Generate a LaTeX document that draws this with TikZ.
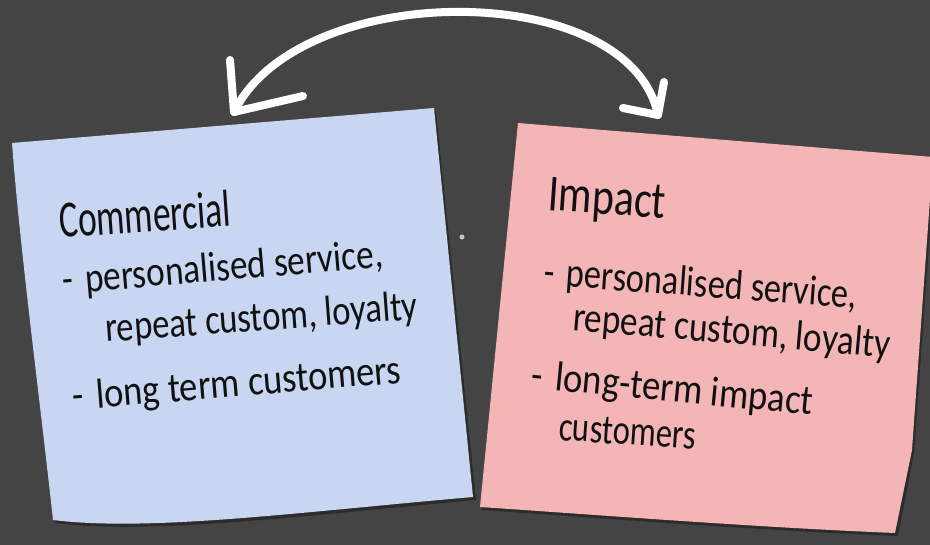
\documentclass[tikz,border=0pt]{standalone}
\usepackage{fontspec}
\setmainfont{Carlito}
\usepackage{graphicx}
\definecolor{board}{HTML}{444444}
\definecolor{bluenote}{HTML}{C8D6F1}
\definecolor{pinknote}{HTML}{F3B5B6}
\definecolor{ink}{HTML}{111111}
\tikzset{
  hand/.style={anchor=base west, inner sep=0pt, text=ink, font=\fontsize{42}{48}\selectfont},
  titletext/.style={hand, font=\fontsize{52}{60}\selectfont},
  chalk/.style={draw=white, line width=8pt, line cap=round, line join=round},
  noteshadow/.style={fill=black, opacity=.35},
}
\newcommand{\fitw}[2]{\resizebox{#1pt}{\height}{#2}}
\begin{document}
\begin{tikzpicture}[x=1pt,y=-1pt]
\fill[board] (0,0) rectangle (930,545);
\useasboundingbox (0,0) rectangle (930,545);
% blue note
\fill[noteshadow] (14,146) -- (436,111) -- (476,500) .. controls (300,516) and (150,535) .. (55,523) .. controls (42,400) and (22,250) .. cycle;
\fill[bluenote] (12,143) -- (434,108) -- (473,497) .. controls (300,512) and (150,532) .. (53,520) .. controls (40,400) and (20,250) .. cycle;
% pink note
\fill[noteshadow] (520,126) -- (935,160) -- (914,453) -- (898,536) .. controls (750,530) and (600,518) .. (482,510) -- cycle;
\fill[pinknote] (518,123) -- (933,157) -- (912,450) -- (895,533) .. controls (750,527) and (600,515) .. (480,507) -- cycle;
% chalk speck
\fill[white, opacity=.7] (462,237) circle (2.5);
% blue text
\node[titletext, rotate=4] (c1) at (60,238) {\fitw{172}{Commercial}};
\node[hand, rotate=4.8] (c2) at (63,294) {\fitw{322}{-\hspace{.35em}personalised service,}};
\node[hand, rotate=4.2] (c3) at (106,342) {\fitw{313}{repeat custom, loyalty}};
\node[hand, rotate=4.7] (c4) at (73,410) {\fitw{330}{-\hspace{.35em}long term customers}};
% pink text
\node[titletext, rotate=-4] (i1) at (547,210) {\fitw{118}{Impact}};
\node[hand, rotate=-4.2] (i2) at (543,285) {\fitw{314}{-\hspace{.35em}personalised service,}};
\node[hand, rotate=-5] (i3) at (572,330) {\fitw{318}{repeat custom, loyalty}};
\node[hand, rotate=-5.5] (i4) at (530,388) {\fitw{283}{-\hspace{.35em}long-term impact}};
\node[hand, rotate=-4] (i5) at (558,440) {\fitw{137}{customers}};
% arrow
\coordinate (lt) at (234,112);
\coordinate (rt) at (658,115);
\coordinate (lb1) at (230,60);
\coordinate (lb2) at (303,96);
\coordinate (rb1) at (664,82);
\coordinate (rb2) at (623,108);
\draw[chalk] (lt) .. controls (300,-22) and (630,-22) .. (rt);
\draw[chalk] (lb1) -- (lt) -- (lb2);
\draw[chalk] (rb1) -- (rt) -- (rb2);
\end{tikzpicture}
\end{document}
